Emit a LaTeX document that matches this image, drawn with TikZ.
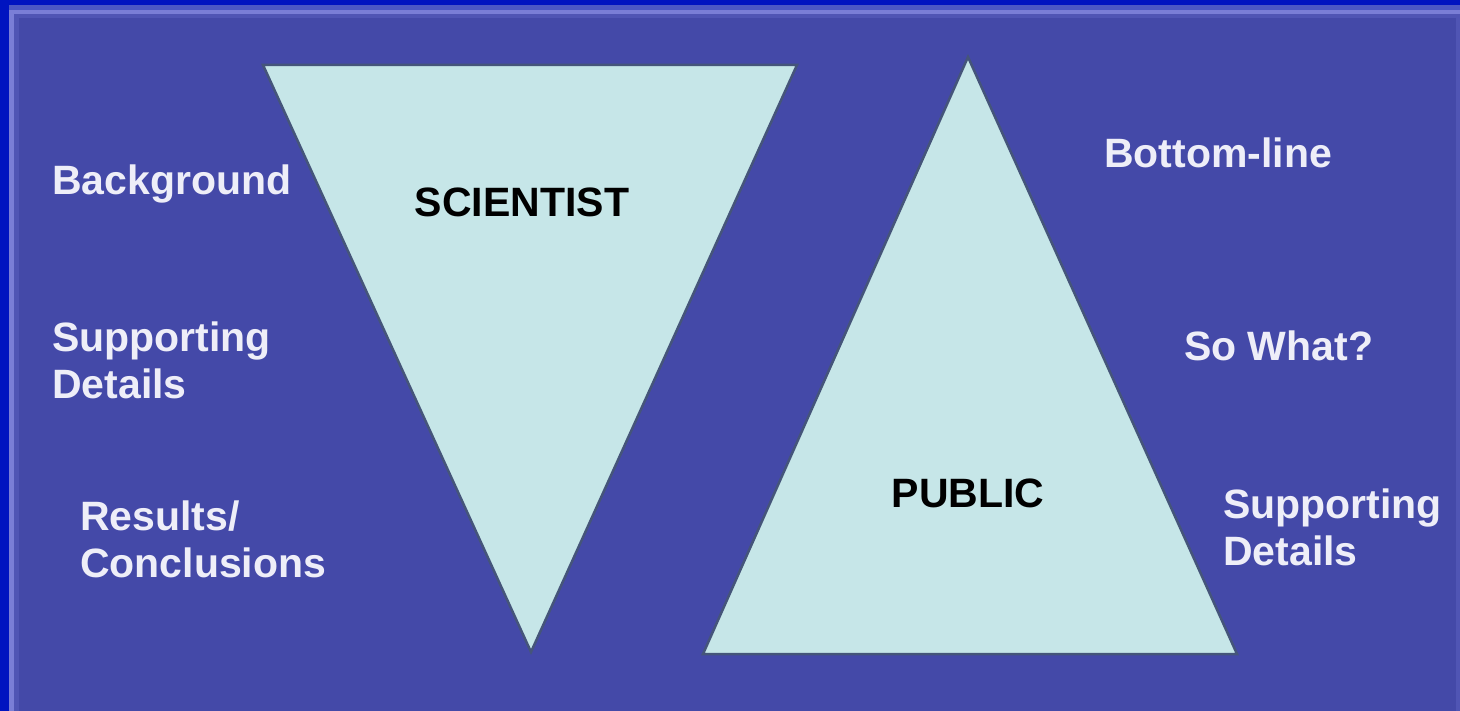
\documentclass[tikz,border=0pt]{standalone}
\usepackage{fontspec}
\setmainfont{Liberation Sans}
\definecolor{bgc}{HTML}{4449A8}
\definecolor{edgeA}{HTML}{0014C0}
\definecolor{edgeB}{HTML}{7A7ED6}
\definecolor{edgeC}{HTML}{4C58C4}
\definecolor{edgeD}{HTML}{5055B4}
\definecolor{trifill}{HTML}{C6E6E8}
\definecolor{triline}{HTML}{45557A}
\definecolor{txt}{HTML}{EEEEF8}
\begin{document}
\begin{tikzpicture}[x=1pt,y=-1pt,
  lbl/.style={font=\fontsize{41}{47}\selectfont\bfseries, text=txt, anchor=base west, inner sep=0pt, align=left},
  tlbl/.style={font=\fontsize{41}{47}\selectfont\bfseries, text=black, anchor=base, inner sep=0pt},
  tri/.style={fill=trifill, draw=triline, line width=2.5pt, line join=miter}]
\useasboundingbox (0,0) rectangle (1460,711);
\fill[edgeA] (0,0) rectangle (1460,711);
\fill[edgeC] (9,5) rectangle (1460,711);
\fill[edgeB] (9,10) rectangle (1460,711);
\fill[edgeD] (14,14) rectangle (1460,711);
\fill[bgc] (19,18) rectangle (1456,711);
% triangles
\draw[tri] (263,65) -- (797,65) -- (531,652) -- cycle;
\draw[tri] (968,57) -- (1237,654) -- (703,654) -- cycle;
% triangle labels
\node[tlbl] (sci) at (522,217) {SCIENTIST};
\node[tlbl] (pub) at (968,507) {PUBLIC};
% left labels (base = last line's baseline)
\node[lbl] (bg) at (52,195) {Background};
\node[lbl] (sd1) at (52,399) {Supporting\\Details};
\node[lbl] (rc) at (80,577) {Results/\\Conclusions};
% right labels
\node[lbl] (bl) at (1104,168) {Bottom-line};
\node[lbl] (sw) at (1184,361) {So What?};
\node[lbl] (sd2) at (1223,565) {Supporting\\Details};
\end{tikzpicture}
\end{document}
